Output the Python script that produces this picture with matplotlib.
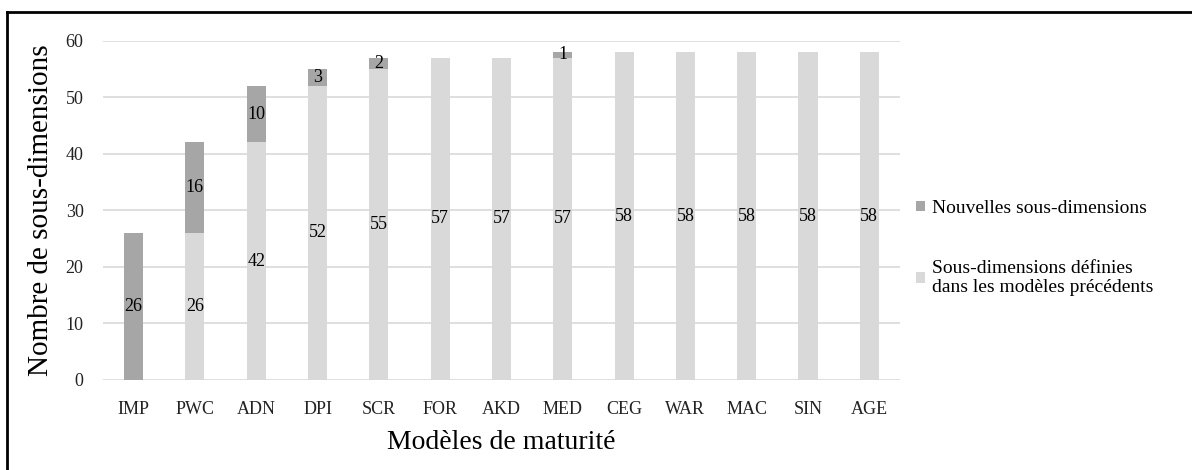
import matplotlib.pyplot as plt
from matplotlib.lines import Line2D

plt.rcParams['font.family'] = ['Liberation Serif', 'DejaVu Serif']

modeles = ['IMP', 'PWC', 'ADN', 'DPI', 'SCR', 'FOR', 'AKD', 'MED',
           'CEG', 'WAR', 'MAC', 'SIN', 'AGE']
precedentes = [0, 26, 42, 52, 55, 57, 57, 57, 58, 58, 58, 58, 58]
nouvelles = [26, 16, 10, 3, 2, 0, 0, 1, 0, 0, 0, 0, 0]

fig = plt.figure(figsize=(11.92, 4.70), dpi=100)
ax = fig.add_axes([0.0864, 0.1915, 0.6686, 0.7219])

x = range(len(modeles))
b1 = ax.bar(x, precedentes, width=0.31, color='#d9d9d9',
            label='Sous-dimensions définies\ndans les modèles précédents', zorder=2)
b2 = ax.bar(x, nouvelles, width=0.31, bottom=precedentes, color='#a6a6a6',
            label='Nouvelles sous-dimensions', zorder=2)

ax.bar_label(b1, labels=[str(v) if v else '' for v in precedentes],
             label_type='center', fontsize=13)
ax.bar_label(b2, labels=[str(v) if v else '' for v in nouvelles],
             label_type='center', fontsize=13)

ax.set_xlim(-0.5, len(modeles) - 0.5)
ax.set_ylim(0, 60)
ax.set_yticks(range(0, 61, 10))
ax.set_xticks(list(x))
ax.set_xticklabels(modeles)
ax.tick_params(length=0, labelsize=13, colors='#222222')
ax.tick_params(axis='x', pad=15)
ax.tick_params(axis='y', pad=14)
ax.yaxis.grid(True, color='#d9d9d9', linewidth=1.2, zorder=0)
for s in ax.spines.values():
    s.set_visible(False)

ax.set_ylabel('Nombre de sous-dimensions', fontsize=21, labelpad=8)
ax.set_xlabel('Modèles de maturité', fontsize=20, labelpad=9)

handles, labels = ax.get_legend_handles_labels()
leg = fig.legend(handles[::-1], labels[::-1], loc='center left',
                 bbox_to_anchor=(0.754, 0.472), frameon=False, fontsize=14,
                 handlelength=0.45, handleheight=0.45, handletextpad=0.35,
                 labelspacing=2.2)

# cadre partiel autour de la figure
fig.add_artist(Line2D([0.0055, 1], [0.9745, 0.9745], color='black',
                      linewidth=2, transform=fig.transFigure))
fig.add_artist(Line2D([0.0055, 0.0055], [0, 0.9745], color='black',
                      linewidth=2, transform=fig.transFigure))

fig.savefig('out.png', dpi=100)
